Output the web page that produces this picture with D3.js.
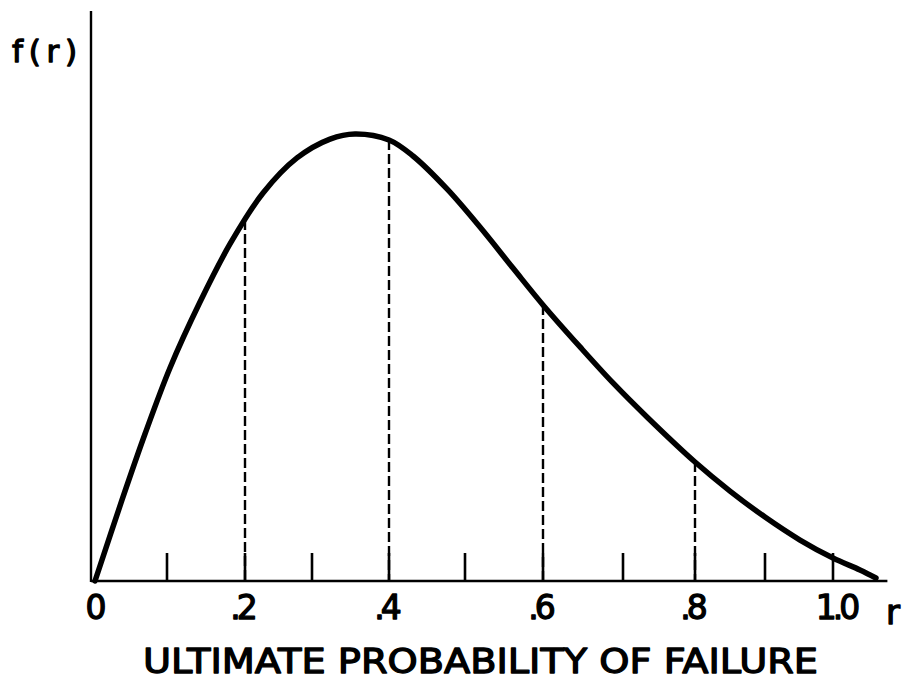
<!DOCTYPE html>
<html>
<head>
<meta charset="utf-8">
<script src="https://cdn.jsdelivr.net/npm/d3@7/dist/d3.min.js"></script>
<style>
  html, body { margin: 0; padding: 0; background: #fff; }
  svg { display: block; }
  text {
    font-family: "DejaVu Sans", "Liberation Sans", sans-serif;
    font-weight: normal;
    fill: #000;
    stroke: #000;
    stroke-width: 1.3px;
    stroke-linejoin: round;
  }
</style>
</head>
<body>
<svg id="chart" width="905" height="685"></svg>
<script>
// Probability density f(r) of the ultimate probability of failure r
const curveR = [0, 0.0375, 0.0694, 0.1038, 0.1423, 0.1808, 0.2269, 0.2776, 0.3234, 0.3558,
                0.4, 0.4316, 0.4763, 0.5192, 0.5615, 0.6, 0.6463, 0.6875, 0.7333, 0.8,
                0.85, 0.9, 0.9515, 1.0, 1.0397, 1.0632];
const curveF = [0, 0.455, 0.825, 1.196, 1.566, 1.892, 2.178, 2.375, 2.481, 2.510,
                2.476, 2.386, 2.201, 1.987, 1.757, 1.550, 1.314, 1.112, 0.921, 0.668,
                0.505, 0.359, 0.230, 0.129, 0.062, 0.017];

// Ordinates marked with dashed lines
const markR = [0.2, 0.4, 0.6, 0.8];
const markF = [2.027, 2.476, 1.550, 0.668];

// Axis ticks and labels
const tickValues = [0, 0.1, 0.2, 0.3, 0.4, 0.5, 0.6, 0.7, 0.8, 0.9, 1.0];
const labelValues = [0, 0.2, 0.4, 0.6, 0.8, 1.0];
const labelText = ["0", ".2", ".4", ".6", ".8", "1.0"];

const svg = d3.select("#chart");

// The hand-lettered axis has slightly uneven spacing, so the scale is piecewise
const x = d3.scaleLinear()
  .domain(tickValues)
  .range([95, 167, 245, 312, 389, 465, 543, 623, 695, 765, 833]);
const y = d3.scaleLinear().domain([0, 3.2]).range([581, 11]);

const rMax = 1.08;

// Axes
svg.append("line")
  .attr("x1", x(0) - 4).attr("x2", x(rMax))
  .attr("y1", y(0)).attr("y2", y(0))
  .attr("stroke", "#000").attr("stroke-width", 2.6);
svg.append("line")
  .attr("x1", 91).attr("x2", 91)
  .attr("y1", y(3.2)).attr("y2", y(0) + 1)
  .attr("stroke", "#000").attr("stroke-width", 2.4);

// Tick marks
svg.append("g").selectAll("line")
  .data(tickValues.filter(v => v > 0))
  .join("line")
  .attr("x1", d => x(d)).attr("x2", d => x(d))
  .attr("y1", y(0)).attr("y2", y(0) - 28)
  .attr("stroke", "#000").attr("stroke-width", 2.6);

// Dashed ordinates
svg.append("g").selectAll("line")
  .data(markR.map((r, i) => ({ r, f: markF[i] })))
  .join("line")
  .attr("x1", d => x(d.r)).attr("x2", d => x(d.r))
  .attr("y1", d => y(d.f)).attr("y2", y(0))
  .attr("stroke", "#000").attr("stroke-width", 2.4)
  .attr("stroke-dasharray", "10,4");

// Density curve
const pts = curveR.map((r, i) => [r, curveF[i]]);
svg.append("path")
  .datum(pts)
  .attr("fill", "none")
  .attr("stroke", "#000")
  .attr("stroke-width", 5.5)
  .attr("stroke-linecap", "round")
  .attr("d", d3.line().x(d => x(d[0])).y(d => y(d[1])).curve(d3.curveCatmullRom.alpha(0.5)));

// Tick labels
svg.append("g").selectAll("text")
  .data(labelValues.map((v, i) => ({ v, t: labelText[i] })))
  .join("text")
  .attr("x", d => x(d.v) + (d.v === 0 ? 1 : d.v === 1 ? 3 : -3))
  .attr("y", 619)
  .attr("text-anchor", "middle")
  .attr("font-size", 33)
  .attr("letter-spacing", d => d.v === 0 ? 0 : -4)
  .text(d => d.t);

// Axis names
svg.append("text")
  .attr("x", 893).attr("y", 624)
  .attr("text-anchor", "middle")
  .attr("font-size", 34)
  .text("r");

svg.append("text")
  .attr("x", 12).attr("y", 62)
  .attr("font-size", 31)
  .attr("textLength", 65)
  .attr("lengthAdjust", "spacing")
  .text("f(r)");

svg.append("text")
  .attr("x", 143).attr("y", 673)
  .attr("font-size", 34)
  .attr("textLength", 675)
  .attr("lengthAdjust", "spacingAndGlyphs")
  .text("ULTIMATE PROBABILITY OF FAILURE");
</script>
</body>
</html>
